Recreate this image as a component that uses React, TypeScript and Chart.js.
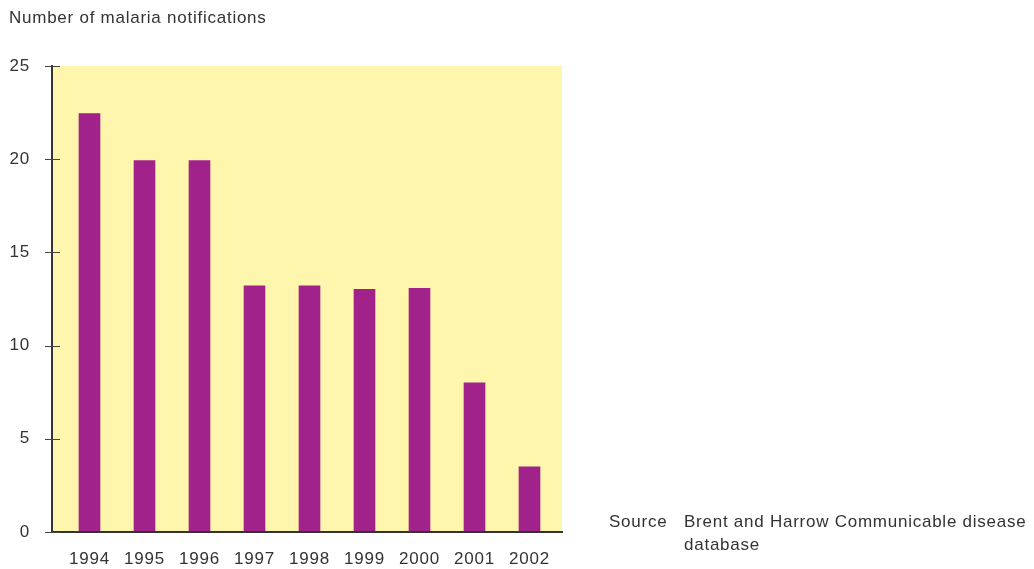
import React, { useEffect, useRef } from "react";
import { Chart, registerables } from "chart.js";

Chart.register(...registerables);

const years = ["1994", "1995", "1996", "1997", "1998", "1999", "2000", "2001", "2002"];
const notifications = [22.45, 19.93, 19.93, 13.2, 13.2, 13.02, 13.07, 8.0, 3.5];
const yMin = 0;
const yMax = 25;
const yStep = 5;
const titleText = "Number of malaria notifications";
const sourceLabel = "Source";
const sourceLines = ["Brent and Harrow Communicable disease", "database"];

const FONT = '"Liberation Sans", Arial, sans-serif';
const TEXT = "#333333";
const PLOT_BG = "#FFF6AE";
const BAR = "#A0228A";

const CANVAS_W = 1018;
const CANVAS_H = 561;

const decor = {
  id: "decor",
  beforeDraw(chart: any) {
    const { ctx, chartArea: a } = chart;
    ctx.save();
    ctx.fillStyle = PLOT_BG;
    ctx.fillRect(a.left, a.top, a.right - a.left, a.bottom - a.top);
    ctx.restore();
    try { ctx.letterSpacing = "0.75px"; } catch (e) {}
  },
  afterDraw(chart: any) {
    const { ctx, chartArea: a, scales } = chart;
    const y = scales.y;
    ctx.save();
    ctx.strokeStyle = "#444444";
    ctx.lineWidth = 1;
    y.ticks.forEach((t: any) => {
      const p = Math.round(y.getPixelForValue(t.value)) + 0.5;
      ctx.beginPath();
      ctx.moveTo(a.left - 7, p);
      ctx.lineTo(a.left + 8, p);
      ctx.stroke();
    });
    ctx.restore();
  },
};

export default function App() {
  const ref = useRef<HTMLCanvasElement | null>(null);

  useEffect(() => {
    if (!ref.current) return;
    const chart = new Chart(ref.current, {
      type: "bar",
      data: {
        datasets: [
          {
            label: titleText,
            data: years.map((_, i) => ({ x: i, y: notifications[i] })),
            backgroundColor: BAR,
            borderWidth: 0,
            barThickness: 21,
          },
        ],
      },
      options: {
        animation: false,
        responsive: false,
        events: [],
        layout: { padding: { top: 58, right: 464, bottom: 0, left: 0 } },
        plugins: {
          legend: { display: false },
          tooltip: { enabled: false },
          title: { display: false },
        },
        scales: {
          x: {
            type: "linear",
            offset: false,
            min: -0.6818,
            max: 8.591,
            grid: { display: false, drawTicks: false, offset: false },
            border: { display: true, color: "#333333", width: 2, z: 1 },
            afterFit: (s: any) => {
              s.height = CANVAS_H - 524;
            },
            ticks: {
              stepSize: 1,
              includeBounds: false,
              autoSkip: false,
              maxRotation: 0,
              padding: 17,
              color: TEXT,
              font: { family: FONT, size: 17 },
              callback: (v: any) => (Number.isInteger(v) && years[v] ? years[v] : ""),
            },
          },
          y: {
            min: yMin,
            max: yMax,
            grid: { display: false, drawTicks: false },
            border: { display: true, color: "#333333", width: 2, z: 1 },
            afterFit: (s: any) => {
              s.width = 44;
            },
            ticks: {
              stepSize: yStep,
              padding: 22,
              color: TEXT,
              font: { family: FONT, size: 17 },
            },
          },
        },
      },
      plugins: [decor],
    } as any);
    return () => chart.destroy();
  }, []);

  const textStyle: React.CSSProperties = {
    position: "absolute",
    fontFamily: FONT,
    fontSize: 17,
    lineHeight: "23px",
    color: TEXT,
    letterSpacing: "0.75px",
    whiteSpace: "nowrap",
    margin: 0,
  };

  return (
    <div style={{ position: "relative", width: CANVAS_W, height: CANVAS_H }}>
      <canvas
        ref={ref}
        width={CANVAS_W}
        height={CANVAS_H}
        style={{ position: "absolute", left: 0, top: 0, width: CANVAS_W, height: CANVAS_H, display: "block" }}
      />
      <div style={{ ...textStyle, left: 1, top: -2.5 }}>{titleText}</div>
      <div style={{ ...textStyle, left: 601, top: 501.5 }}>{sourceLabel}</div>
      <div style={{ ...textStyle, left: 676, top: 501.5 }}>
        {sourceLines.map((l, i) => (
          <div key={i}>{l}</div>
        ))}
      </div>
    </div>
  );
}
